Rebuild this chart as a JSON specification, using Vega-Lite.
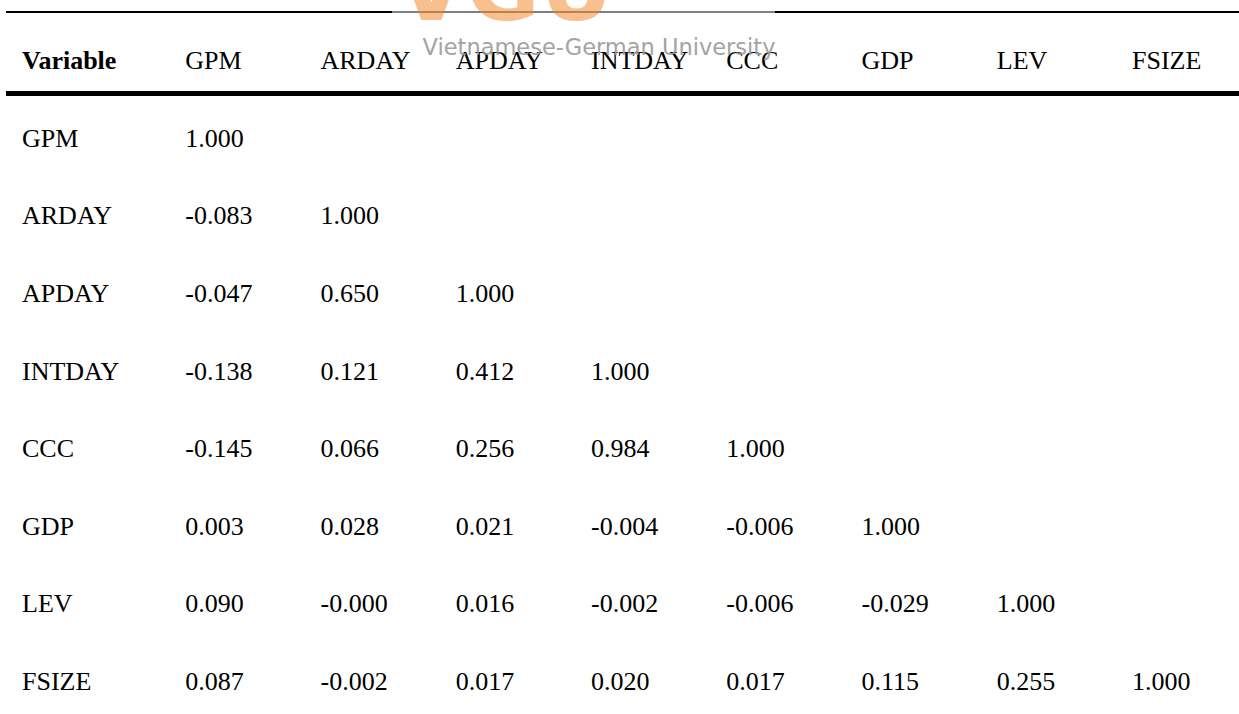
{
  "$schema": "https://vega.github.io/schema/vega-lite/v6.json",
  "width": 1233,
  "height": 714,
  "autosize": "none",
  "padding": {"left": 6, "top": 0, "right": 0, "bottom": 0},
  "background": "white",
  "config": {"view": {"stroke": null}},
  "data": {"values": [
    {"row": "Variable", "col": "GPM", "label": "GPM"},
    {"row": "Variable", "col": "ARDAY", "label": "ARDAY"},
    {"row": "Variable", "col": "APDAY", "label": "APDAY"},
    {"row": "Variable", "col": "INTDAY", "label": "INTDAY"},
    {"row": "Variable", "col": "CCC", "label": "CCC"},
    {"row": "Variable", "col": "GDP", "label": "GDP"},
    {"row": "Variable", "col": "LEV", "label": "LEV"},
    {"row": "Variable", "col": "FSIZE", "label": "FSIZE"},
    {"row": "GPM", "col": "Variable", "label": "GPM"},
    {"row": "ARDAY", "col": "Variable", "label": "ARDAY"},
    {"row": "APDAY", "col": "Variable", "label": "APDAY"},
    {"row": "INTDAY", "col": "Variable", "label": "INTDAY"},
    {"row": "CCC", "col": "Variable", "label": "CCC"},
    {"row": "GDP", "col": "Variable", "label": "GDP"},
    {"row": "LEV", "col": "Variable", "label": "LEV"},
    {"row": "FSIZE", "col": "Variable", "label": "FSIZE"},
    {"row": "GPM", "col": "GPM", "label": "1.000"},
    {"row": "ARDAY", "col": "GPM", "label": "-0.083"},
    {"row": "ARDAY", "col": "ARDAY", "label": "1.000"},
    {"row": "APDAY", "col": "GPM", "label": "-0.047"},
    {"row": "APDAY", "col": "ARDAY", "label": "0.650"},
    {"row": "APDAY", "col": "APDAY", "label": "1.000"},
    {"row": "INTDAY", "col": "GPM", "label": "-0.138"},
    {"row": "INTDAY", "col": "ARDAY", "label": "0.121"},
    {"row": "INTDAY", "col": "APDAY", "label": "0.412"},
    {"row": "INTDAY", "col": "INTDAY", "label": "1.000"},
    {"row": "CCC", "col": "GPM", "label": "-0.145"},
    {"row": "CCC", "col": "ARDAY", "label": "0.066"},
    {"row": "CCC", "col": "APDAY", "label": "0.256"},
    {"row": "CCC", "col": "INTDAY", "label": "0.984"},
    {"row": "CCC", "col": "CCC", "label": "1.000"},
    {"row": "GDP", "col": "GPM", "label": "0.003"},
    {"row": "GDP", "col": "ARDAY", "label": "0.028"},
    {"row": "GDP", "col": "APDAY", "label": "0.021"},
    {"row": "GDP", "col": "INTDAY", "label": "-0.004"},
    {"row": "GDP", "col": "CCC", "label": "-0.006"},
    {"row": "GDP", "col": "GDP", "label": "1.000"},
    {"row": "LEV", "col": "GPM", "label": "0.090"},
    {"row": "LEV", "col": "ARDAY", "label": "-0.000"},
    {"row": "LEV", "col": "APDAY", "label": "0.016"},
    {"row": "LEV", "col": "INTDAY", "label": "-0.002"},
    {"row": "LEV", "col": "CCC", "label": "-0.006"},
    {"row": "LEV", "col": "GDP", "label": "-0.029"},
    {"row": "LEV", "col": "LEV", "label": "1.000"},
    {"row": "FSIZE", "col": "GPM", "label": "0.087"},
    {"row": "FSIZE", "col": "ARDAY", "label": "-0.002"},
    {"row": "FSIZE", "col": "APDAY", "label": "0.017"},
    {"row": "FSIZE", "col": "INTDAY", "label": "0.020"},
    {"row": "FSIZE", "col": "CCC", "label": "0.017"},
    {"row": "FSIZE", "col": "GDP", "label": "0.115"},
    {"row": "FSIZE", "col": "LEV", "label": "0.255"},
    {"row": "FSIZE", "col": "FSIZE", "label": "1.000"},
    {"row": "Variable", "col": "Variable", "label": "Variable"}
  ]},
  "layer": [
    {
      "mark": {"type": "rule", "yOffset": -49, "strokeWidth": 2, "color": "#000000"},
      "encoding": {
        "y": {"datum": "Variable", "type": "nominal", "axis": null,
              "scale": {"type": "point", "padding": 0, "domain": ["Variable", "GPM", "ARDAY", "APDAY", "INTDAY", "CCC", "GDP", "LEV", "FSIZE"], "range": [61, 682]}}
      }
    },
    {
      "mark": {"type": "rule", "yOffset": 32.5, "strokeWidth": 3.5, "color": "#000000"},
      "encoding": {
        "y": {"datum": "Variable", "type": "nominal", "axis": null}
      }
    },
    {
      "mark": {"type": "rule", "yOffset": -49, "xOffset": -63, "x2Offset": 48, "strokeWidth": 2, "color": "#808080"},
      "encoding": {
        "x": {"datum": "APDAY", "type": "nominal", "axis": null,
              "scale": {"type": "point", "padding": 0, "domain": ["Variable", "GPM", "ARDAY", "APDAY", "INTDAY", "CCC", "GDP", "LEV", "FSIZE"], "range": [44, 1126]}},
        "x2": {"datum": "CCC"},
        "y": {"datum": "Variable", "type": "nominal", "axis": null}
      }
    },
    {
      "transform": [{"filter": "datum.col != 'Variable'"}],
      "mark": {"type": "text", "align": "left", "baseline": "middle", "font": "Liberation Serif", "fontSize": 26, "color": "#000000"},
      "encoding": {
        "x": {"field": "col", "type": "nominal", "axis": null},
        "y": {"field": "row", "type": "nominal", "axis": null},
        "text": {"field": "label"}
      }
    },
    {
      "transform": [{"filter": "datum.col == 'Variable' && datum.row != 'Variable'"}],
      "mark": {"type": "text", "align": "left", "baseline": "middle", "dx": -28, "font": "Liberation Serif", "fontSize": 26, "color": "#000000"},
      "encoding": {
        "x": {"field": "col", "type": "nominal", "axis": null},
        "y": {"field": "row", "type": "nominal", "axis": null},
        "text": {"field": "label"}
      }
    },
    {
      "transform": [{"filter": "datum.col == 'Variable' && datum.row == 'Variable'"}],
      "mark": {"type": "text", "align": "left", "baseline": "middle", "dx": -28, "font": "Liberation Serif", "fontSize": 26, "fontWeight": "bold", "color": "#000000"},
      "encoding": {
        "x": {"field": "col", "type": "nominal", "axis": null},
        "y": {"field": "row", "type": "nominal", "axis": null},
        "text": {"field": "label"}
      }
    },
    {
      "data": {"values": [{"mark": "VGU"}]},
      "mark": {"type": "text", "align": "center", "baseline": "alphabetic", "dx": 49, "dy": -41, "font": "DejaVu Sans", "fontSize": 90, "fontWeight": "bold", "color": "#F3821F", "opacity": 0.5},
      "encoding": {
        "x": {"datum": "APDAY", "type": "nominal", "axis": null},
        "y": {"datum": "Variable", "type": "nominal", "axis": null},
        "text": {"field": "mark"}
      }
    },
    {
      "data": {"values": [{"mark": "Vietnamese-German University"}]},
      "mark": {"type": "text", "align": "center", "baseline": "alphabetic", "dx": 8, "dy": -6, "font": "DejaVu Sans", "fontSize": 22.5, "color": "#9a9a9a", "opacity": 0.9},
      "encoding": {
        "x": {"datum": "INTDAY", "type": "nominal", "axis": null},
        "y": {"datum": "Variable", "type": "nominal", "axis": null},
        "text": {"field": "mark"}
      }
    }
  ]
}
